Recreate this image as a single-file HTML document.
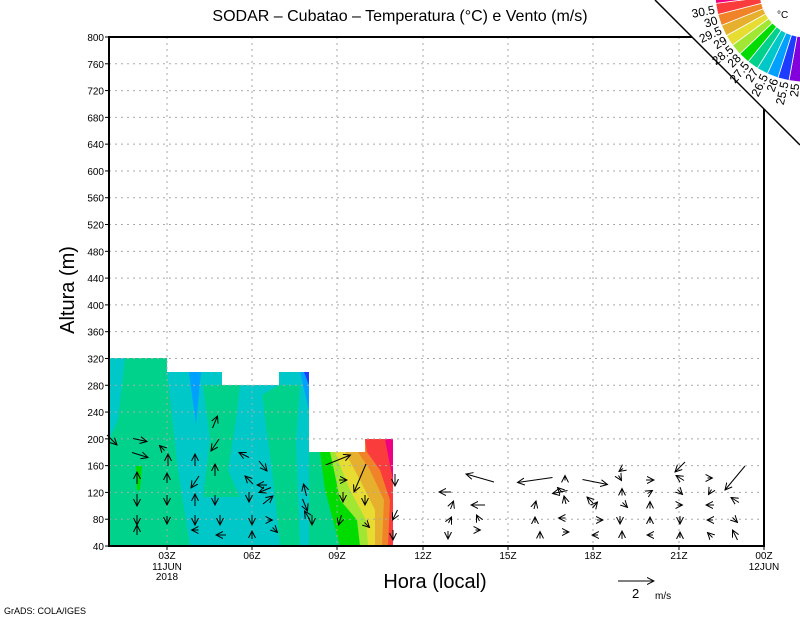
<!DOCTYPE html>
<html><head><meta charset="utf-8"><style>
body{margin:0;background:#fff}
svg{display:block;font-family:"Liberation Sans",sans-serif}
</style></head><body>
<svg id="s" width="800" height="618" viewBox="0 0 800 618" xmlns="http://www.w3.org/2000/svg">
<defs><marker id="ah" markerWidth="8" markerHeight="8" refX="7" refY="4" orient="auto" markerUnits="userSpaceOnUse"><path d="M0,0.5 L7,4 L0,7.5" fill="none" stroke="#000" stroke-width="1"/></marker></defs>
<rect width="800" height="618" fill="#fff"/>
<g stroke="none">
<rect x="109" y="358" width="58" height="188" fill="#00d28c"/>
<polygon points="109,358 125,358 118,420 109,440" fill="#00c8c8"/>
<rect x="167" y="372" width="55" height="174" fill="#00c8c8"/>
<rect x="222" y="385" width="57" height="161" fill="#00c8c8"/>
<rect x="279" y="372" width="30" height="174" fill="#00c8c8"/>
<polygon points="167,372 167,546 190,546 178,470" fill="#00d28c"/>
<polygon points="203,385 240,385 236,420 228,470 240,497 203,497 210,440" fill="#00d28c"/>
<polygon points="262,395 279,385 300,385 296,440 300,546 280,546 272,470" fill="#00d28c"/>
<polygon points="189,372 201,372 196,425" fill="#00a0ff"/>
<polygon points="300,372 309,372 309,410" fill="#00a0ff"/>
<polygon points="304,372 309,372 309,385" fill="#1e3cff"/>
<polygon points="136,466 142,466 140,490 137,490" fill="#00dc00"/>
<polygon points="309,452 365,452 365,439 393,439 393,546 309,546" fill="#00d28c"/>
<polygon points="320,452 365,452 365,439 393,439 393,546 340,546 333,520 325,490" fill="#00dc00"/>
<polygon points="330,452 365,452 365,439 393,439 393,546 360,546 357,520 340,500 335,475" fill="#a0e632"/>
<polygon points="335,452 365,452 365,439 393,439 393,546 368,546 366,520 350,490 342,470" fill="#e6dc32"/>
<polygon points="345,452 365,452 365,439 393,439 393,546 375,546 375,510 360,480" fill="#e6af2d"/>
<polygon points="358,452 365,452 365,439 393,439 393,546 382,546 384,500 370,470" fill="#f08228"/>
<polygon points="365,439 393,439 393,546 388,546 390,500 380,470 367,452" fill="#fa3c3c"/>
<polygon points="385,439 393,439 393,480 389,460" fill="#f00082"/>
</g>
<g id="grid" stroke="#aaa" stroke-dasharray="2,4" stroke-width="1"></g>
<g id="arrows" stroke="#000" stroke-width="1" fill="none"></g>
<rect x="109" y="37" width="655" height="509" fill="none" stroke="#000" stroke-width="2"/>
<polygon points="655,0 800,0 800,145" fill="#fff"/>
<line x1="655" y1="0" x2="800" y2="145" stroke="#000" stroke-width="1.5"/>
<g id="cb"></g>
<g id="labels" font-size="10" fill="#000"></g>
<text x="400" y="21" font-size="16" text-anchor="middle">SODAR – Cubatao – Temperatura (°C) e Vento (m/s)</text>
<text transform="translate(74,290) rotate(-90)" font-size="20" text-anchor="middle">Altura (m)</text>
<text x="435" y="588" font-size="20" text-anchor="middle">Hora (local)</text>
<text x="4" y="614" font-size="9">GrADS: COLA/IGES</text>
<line x1="618" y1="581" x2="654" y2="581" stroke="#000" marker-end="url(#ah)"/>
<text x="632" y="598" font-size="13">2</text><text x="655" y="599" font-size="10">m/s</text>
<text x="777" y="18" font-size="10">°C</text>
</svg>
<script>
var NS="http://www.w3.org/2000/svg";
function el(p,t,a,txt){var e=document.createElementNS(NS,t);for(var k in a)e.setAttribute(k,a[k]);if(txt!==undefined)e.textContent=txt;document.getElementById(p).appendChild(e);return e;}
function Y(v){return 546-(v-40)*509/760;}
var ticks=[167,252,337,423,508,593,679,764];
var names=["03Z","06Z","09Z","12Z","15Z","18Z","21Z","00Z"];
for(var v=40;v<=800;v+=40){var y=Y(v);if(v>40&&v<800)el("grid","line",{x1:109,y1:y,x2:764,y2:y});
el("labels","text",{x:104,y:y+4,"text-anchor":"end"},v);el("labels","line",{x1:105,y1:y,x2:109,y2:y,stroke:"#000"});}
ticks.forEach(function(x,i){if(i<7)el("grid","line",{x1:x,y1:37,x2:x,y2:546});
el("labels","line",{x1:x,y1:546,x2:x,y2:550,stroke:"#000"});
el("labels","text",{x:x,y:559,"text-anchor":"middle"},names[i]);});
el("labels","text",{x:167,y:570,"text-anchor":"middle"},"11JUN");
el("labels","text",{x:167,y:580,"text-anchor":"middle"},"2018");
el("labels","text",{x:764,y:570,"text-anchor":"middle"},"12JUN");
var cols=["#8200dc","#1e3cff","#00a0ff","#00c8c8","#00d28c","#00dc00","#a0e632","#e6dc32","#e6af2d","#f08228","#fa3c3c","#f00082"];
var cx=805,cy=-8,r1=45,r2=90,a0=93,a1=180,n=cols.length;
function pt(r,a){a=a*Math.PI/180;return [cx+r*Math.cos(a),cy+r*Math.sin(a)];}
for(var i=0;i<n;i++){var s=a0+(a1-a0)*i/n,e=a0+(a1-a0)*(i+1)/n;
var p1=pt(r1,s),p2=pt(r2,s),p3=pt(r2,e),p4=pt(r1,e);
el("cb","path",{d:"M"+p1+"L"+p2+"L"+p3+"L"+p4+"Z",fill:cols[i],stroke:"#fff","stroke-width":"0.8"});}
var lab=["25","25.5","26","26.5","27","27.5","28","28.5","29","29.5","30","30.5"];
for(var i=0;i<lab.length;i++){var a=96+(169-96)*i/11;var p=pt(r2+2,a);
el("cb","text",{x:p[0],y:p[1]+4,"font-size":"12","text-anchor":"end",transform:"rotate("+(a-180)+" "+p[0]+" "+p[1]+")"},lab[i]);}
var A=[[112,440,10,10],[140,440,14,3],[140,455,16,5],[162,448,-5,-5],[168,460,0,-12],[167,478,0,-10],[167,500,0,10],[167,520,0,8],[137,500,0,12],[137,520,0,10],[137,478,0,-12],[137,530,0,-10],[195,460,0,-12],[195,482,-8,12],[195,500,0,-12],[195,520,0,10],[195,530,-7,0],[215,422,5,-12],[215,445,-8,12],[215,470,0,-12],[215,500,0,10],[220,520,0,10],[221,535,-10,0],[244,455,-10,-5],[249,480,-8,-8],[249,497,0,10],[252,520,0,10],[252,535,0,-8],[263,466,8,10],[262,485,-10,0],[265,490,-12,5],[268,500,10,-8],[270,520,5,0],[275,530,5,5],[305,490,-3,-12],[305,505,5,12],[307,515,-5,-8],[312,520,0,10],[338,460,25,-10],[343,480,8,0],[360,478,-12,28],[343,497,0,10],[340,520,-3,10],[365,500,0,10],[367,525,5,5],[395,480,0,12],[395,515,-5,10],[393,535,0,10],
[480,478,-28,-8],[535,480,-35,5],[445,492,-12,0],[452,505,3,-8],[478,505,-14,0],[450,520,3,-6],[478,518,-3,-6],[448,535,0,8],[478,530,5,0],[560,492,-15,3],[535,505,2,-8],[565,478,0,-5],[560,490,-5,-5],[565,500,-2,-8],[535,520,0,-6],[562,518,-7,0],[540,535,0,-7],[566,532,6,0],[595,482,25,5],[595,505,5,-6],[590,500,-6,-6],[600,520,6,0],[595,535,-6,0],[621,470,-4,3],[620,478,3,5],[622,492,0,-7],[625,505,5,5],[620,520,0,8],[622,535,0,-8],[650,480,8,0],[650,492,5,-3],[650,505,0,-7],[650,520,0,-6],[650,535,-6,0],[680,467,-10,10],[680,478,-8,-5],[680,492,5,5],[680,505,5,0],[680,520,0,8],[680,535,0,-6],[710,478,5,0],[710,492,-3,5],[710,505,-8,0],[710,520,-6,0],[710,535,-5,-5],[735,478,-20,24],[735,500,-8,-5],[735,520,5,5],[735,535,-5,-10]];
A.forEach(function(a){el("arrows","line",{x1:a[0]-a[2]/2,y1:a[1]-a[3]/2,x2:a[0]+a[2]/2,y2:a[1]+a[3]/2,"marker-end":"url(#ah)"});});
</script>
</body></html>
